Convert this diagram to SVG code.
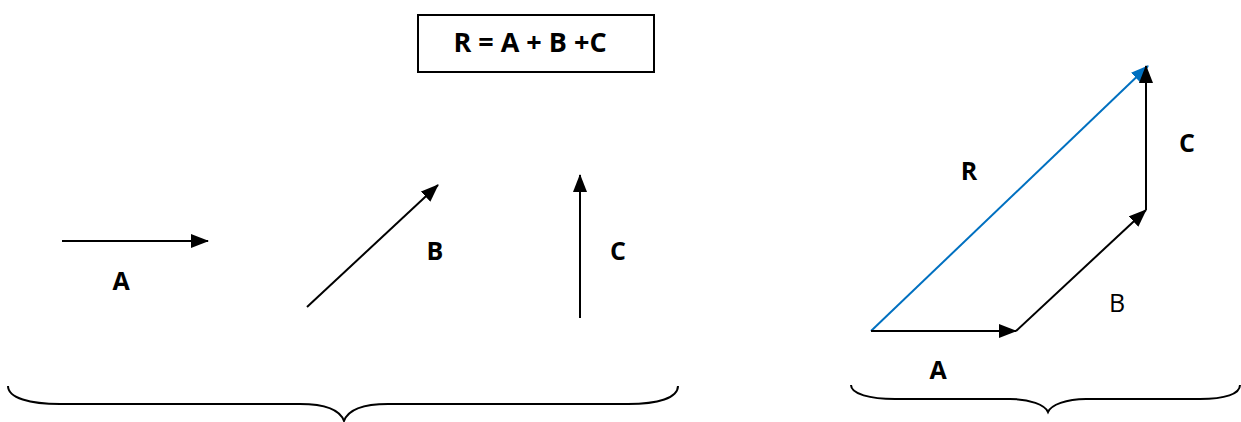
<svg xmlns="http://www.w3.org/2000/svg" width="1241" height="422" viewBox="0 0 1241 422">
<style>
.v{stroke:#000;stroke-width:2;fill:none}
.r{stroke:#0070C0;stroke-width:2;fill:none}
.br{fill:none;stroke:#000;stroke-width:2}
.t{font-family:"Open Sans","Liberation Sans",sans-serif;font-size:25px;fill:#000;text-anchor:middle}
.bold{font-weight:bold}
</style>
<defs>
<marker id="ah" viewBox="0 0 18 14" refX="17" refY="7" markerWidth="18" markerHeight="14" markerUnits="userSpaceOnUse" orient="auto">
<path d="M0,0 L18,7 L0,14 Z" fill="#000"/>
</marker>
<marker id="ahb" viewBox="0 0 18 14" refX="17" refY="7" markerWidth="18" markerHeight="14" markerUnits="userSpaceOnUse" orient="auto">
<path d="M0,0 L18,7 L0,14 Z" fill="#0070C0"/>
</marker>
</defs>
<rect width="1241" height="422" fill="#fff"/>
<g id="formula">
<rect x="418" y="15" width="236" height="57" fill="#fff" stroke="#000" stroke-width="2"/>
<text class="t bold" x="530" y="52" style="font-size:27px">R = A + B +C</text>
</g>
<g id="connectors">
<line class="v" x1="62" y1="241" x2="208" y2="241" marker-end="url(#ah)"/>
<line class="v" x1="307" y1="307" x2="438" y2="185" marker-end="url(#ah)"/>
<line class="v" x1="580" y1="318" x2="580" y2="175" marker-end="url(#ah)"/>
<line class="r" x1="871" y1="331" x2="1148" y2="66" marker-end="url(#ahb)"/>
<line class="v" x1="871" y1="331" x2="1016" y2="331" marker-end="url(#ah)"/>
<line class="v" x1="1016" y1="331" x2="1146" y2="210" marker-end="url(#ah)"/>
<line class="v" x1="1146" y1="210" x2="1146" y2="66" marker-end="url(#ah)"/>
</g>
<g id="labels">
<text class="t bold" x="121" y="290">A</text>
<text class="t bold" x="435" y="260">B</text>
<text class="t bold" x="618" y="260">C</text>
<text class="t bold" x="969" y="180">R</text>
<text class="t bold" x="1187" y="152">C</text>
<text class="t" x="1117" y="312">B</text>
<text class="t bold" x="938" y="379">A</text>
</g>
<g id="braces">
<path class="br" d="M8,386 C8,398 30,404 60,404 L300,404 C325,404 340,410 344,421 C348,410 363,404 388,404 L628,404 C658,404 678,398 678,386"/>
<path class="br" d="M851,385 C851,394 870,399 895,399 L1010,399 C1030,399 1045,405 1048,412 C1051,405 1066,399 1086,399 L1200,399 C1225,399 1240,394 1240,385"/>
</g>
</svg>
